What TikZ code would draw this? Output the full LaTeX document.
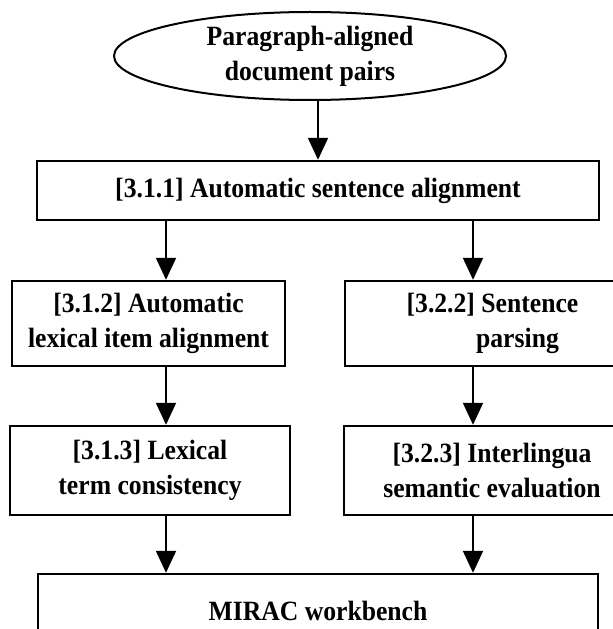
\documentclass[tikz,border=0pt]{standalone}
\usepackage{fontspec}
\setmainfont{Liberation Serif}[FakeStretch=0.92]
\usetikzlibrary{shapes.geometric,arrows.meta}
\begin{document}
\begin{tikzpicture}[x=1bp,y=-1bp,
  every node/.style={font=\bfseries\fontsize{28}{35}\selectfont, align=center, inner sep=0pt},
  procbox/.style={draw, line width=2.4bp, rectangle},
  startell/.style={draw, line width=2bp, ellipse},
  arr/.style={line width=2bp, -{Triangle[width=20bp,length=22bp]}}]
\useasboundingbox (0,0) rectangle (613,629);
\fill[white] (0,0) rectangle (613,629);
\clip (0,0) rectangle (613,629);
\node[startell, minimum width=392bp, minimum height=88bp] (e) at (310,56) {Paragraph-aligned\\document pairs};
\node[procbox, minimum width=562bp, minimum height=59bp] (b1) at (318,190.5) {[3.1.1] Automatic sentence alignment};
\node[procbox, minimum width=273bp, minimum height=85bp] (l2) at (148.5,323.5) {[3.1.2] Automatic\\lexical item alignment};
\node[procbox, minimum width=295bp, minimum height=85bp] (r2) at (492.5,323.5) {[3.2.2] Sentence\\\hspace*{50bp}parsing};
\node[procbox, minimum width=280bp, minimum height=89bp] (l3) at (150,470.5) {[3.1.3] Lexical\\term consistency};
\node[procbox, minimum width=296bp, minimum height=89bp] (r3) at (492,470.5) {[3.2.3] Interlingua\\semantic evaluation};
\node[procbox, minimum width=560bp, minimum height=74bp] (mw) at (318,611) {MIRAC workbench};
\coordinate (cl) at (166,0);
\coordinate (cr) at (473,0);
\draw[arr] (e.south -| b1.north) -- (b1.north);
\draw[arr] (b1.south -| cl) -- (l2.north -| cl);
\draw[arr] (b1.south -| cr) -- (r2.north -| cr);
\draw[arr] (l2.south -| cl) -- (l3.north -| cl);
\draw[arr] (r2.south -| cr) -- (r3.north -| cr);
\draw[arr] (l3.south -| cl) -- (mw.north -| cl);
\draw[arr] (r3.south -| cr) -- (mw.north -| cr);
\end{tikzpicture}
\end{document}
